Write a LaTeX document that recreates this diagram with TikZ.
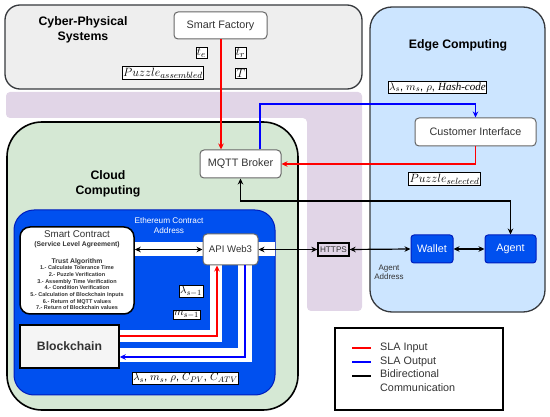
\documentclass[tikz,border=0pt]{standalone}
\usepackage{fontspec}
\setmainfont{Liberation Sans}
\newfontfamily\serifit{Liberation Serif}
\usetikzlibrary{arrows.meta}
\definecolor{cpsfill}{HTML}{EEEEEE}
\definecolor{cpsdraw}{HTML}{36393D}
\definecolor{purp}{HTML}{E1D5E7}
\definecolor{edgefill}{HTML}{CCE5FF}
\definecolor{cloudfill}{HTML}{D5E8D4}
\definecolor{ethfill}{HTML}{0050EF}
\definecolor{ethdraw}{HTML}{001DBC}
\definecolor{nodedraw}{HTML}{666666}
\definecolor{txt}{HTML}{333333}
\definecolor{bcfill}{HTML}{F5F5F5}
\definecolor{redl}{HTML}{FF0000}
\definecolor{bluel}{HTML}{0000FF}
\tikzset{
  container/.style={draw, line width=1.3pt, inner sep=0pt},
  plainbox/.style={draw=nodedraw, fill=white, rounded corners=4pt, line width=1pt, text=txt, font=\fontsize{10.8}{12}\selectfont, inner sep=0pt},
  bluebox/.style={draw=ethdraw, fill=ethfill, rounded corners=3pt, line width=1pt, text=white, font=\fontsize{10.8}{12}\selectfont, inner sep=0pt},
  lbl/.style={draw=black, fill=white, line width=0.6pt, inner sep=1pt, font=\fontsize{11}{12}\selectfont},
  biglbl/.style={lbl, font=\fontsize{12.8}{14}\selectfont},
  title/.style={font=\bfseries\fontsize{12.3}{15}\selectfont, align=center},
  conn/.style={line width=1.2pt},
  wband/.style={draw=white, line width=12pt},
  >={Stealth[length=6pt,width=5.5pt]}
}
\begin{document}
\begin{tikzpicture}[x=1pt,y=-1pt]
\useasboundingbox (0,0) rectangle (550,417);
% background regions
\fill[purp, rounded corners=4pt] (6,92) -- (362,92) -- (362,311) -- (307,311) -- (307,118) -- (6,118) -- cycle;
\node[container, draw=cpsdraw, fill=cpsfill, rounded corners=15pt, minimum width=357pt, minimum height=84pt] (cps) at (183.5,47) {};
\node[container, draw=cpsdraw, fill=edgefill, rounded corners=22pt, minimum width=175pt, minimum height=305pt] (edge) at (457.5,159.5) {};
\node[container, draw=black, line width=1.6pt, fill=cloudfill, rounded corners=35pt, minimum width=291pt, minimum height=288pt] (cloud) at (152.5,266) {};
\node[container, draw=ethdraw, line width=1pt, fill=ethfill, rounded corners=20pt, minimum width=261pt, minimum height=185pt] (eth) at (144.5,302.5) {};
% titles
\node[title] (cpst) at (83,30) {Cyber-Physical\\Systems};
\node[title] (edget) at (458,45) {Edge Computing};
\node[title] (cloudt) at (108,183.5) {Cloud\\Computing};
\node[text=white, font=\fontsize{8.2}{9.2}\selectfont, align=center] (etht) at (169,225.5) {Ethereum Contract\\Address};
% white bands
\fill[white] (134,242) rectangle (275,256);
\draw[wband] (215.5,265) -- (215.5,336) -- (119,336);
\draw[wband, line width=14pt] (245,265) -- (245,355) -- (119,355);
% nodes
\node[plainbox, minimum width=93pt, minimum height=27pt] (sf) at (220.5,25.5) {Smart Factory};
\node[plainbox, minimum width=81pt, minimum height=28pt] (mqtt) at (240.5,164) {MQTT Broker};
\node[plainbox, minimum width=121pt, minimum height=28pt] (ci) at (475.5,132) {Customer Interface};
\node[plainbox, minimum width=55pt, minimum height=31pt, font=\fontsize{9.6}{11}\selectfont] (web3) at (230.5,249.5) {API Web3};
\node[bluebox, minimum width=42pt, minimum height=28pt] (wallet) at (432,249) {Wallet};
\node[bluebox, minimum width=51pt, minimum height=28pt] (agent) at (510.5,249) {Agent};
\node[draw=black, line width=1.3pt, inner sep=0pt, minimum width=31pt, minimum height=13pt, text=txt, font=\fontsize{8.2}{9}\selectfont] (https) at (333.5,249.5) {HTTPS};
\node[draw=black, line width=1.5pt, fill=white, rounded corners=10pt, minimum width=114pt, minimum height=87pt, inner sep=0pt] (sc) at (77,270.5) {};
\node[draw=black, line width=1.5pt, fill=bcfill, minimum width=99pt, minimum height=43pt, inner sep=0pt, font=\bfseries\fontsize{12.2}{14}\selectfont, text=txt] (bc) at (69.5,346.5) {Blockchain};
% smart contract texts
\node[text=txt, font=\fontsize{9.8}{11}\selectfont] (sct1) at (77,234.5) {Smart Contract};
\node[text=txt, font=\bfseries\fontsize{6.8}{8}\selectfont] (sct2) at (77,245) {(Service Level Agreement)};
\node[text=txt, font=\bfseries\fontsize{6.8}{8}\selectfont] (sct3) at (77,262) {Trust Algorithm};
\node[text=txt, font=\bfseries\fontsize{5.5}{6.7}\selectfont, align=center, anchor=north, inner sep=0pt] (sct4) at (77,265.5) {1.- Calculate Tolerance Time\\2.- Puzzle Verification\\3.- Assembly Time Verification\\4.- Condition Verification\\5.- Calculation of Blockchain Inputs\\6.- Return of MQTT values\\7.- Return of Blockchain values};
\node[text=txt, font=\fontsize{8}{9.2}\selectfont, align=center] (aa) at (389,272.5) {Agent\\Address};
% coordinates
\coordinate (bup) at (0,104);
\coordinate (bdn) at (0,201);
\coordinate (ry) at (0,336);
\coordinate (by) at (0,357);
% connectors
\draw[conn, redl, ->] ([xshift=0.5pt]sf.south) -- ([xshift=0.5pt]sf.south |- mqtt.north);
\draw[conn, bluel, ->] ([xshift=19.5pt]mqtt.north) |- (ci.north |- bup) -- (ci.north);
\draw[conn, redl, ->] (ci.south) |- (mqtt.east);
\draw[conn, <->] (mqtt.south) |- (bdn -| agent.north) -- (agent.north);
\draw[conn, <->] (sc.east |- web3.west) -- (web3.west);
\draw[conn, <->] (web3.east) -- (https.west);
\draw[conn, <->] (https.east) -- (wallet.west);
\draw[conn, <->] (wallet.east) -- (agent.west);
\draw[conn, redl, ->] (bc.east |- ry) -| ([xshift=-13.5pt]web3.south);
\draw[conn, bluel, ->] ([xshift=14.5pt]web3.south) |- (bc.east |- by);
% labels
\node[biglbl] (lte) at (201.5,53) {$t_e$};
\node[biglbl] (ltr) at (240.5,53) {$t_r$};
\node[biglbl] (lpa) at (163,73) {$Puzzle_{assembled}$};
\node[biglbl] (lT) at (241,73) {$T$};
\node[lbl] (lhash) at (437.5,87.5) {$\lambda_s$, $m_s$, $\rho$, {\serifit\itshape Hash-code}};
\node[biglbl] (lps) at (444.5,179) {$Puzzle_{selected}$};
\node[lbl] (llam) at (191,291) {$\lambda_{s-1}$};
\node[lbl] (lms) at (186.5,314.5) {$m_{s-1}$};
\node[lbl] (lout) at (185.5,378) {$\lambda_s$, $m_s$, $\rho$, $C_{PV}$, $C_{ATV}$};
% legend
\node[draw=black, line width=1.3pt, fill=white, minimum width=168pt, minimum height=82pt, inner sep=0pt] (leg) at (419,369) {};
\coordinate (l1a) at (352,348); \coordinate (l1b) at (371,348);
\coordinate (l2a) at (352,362); \coordinate (l2b) at (371,362);
\coordinate (l3a) at (352,376); \coordinate (l3b) at (371,376);
\draw[conn, redl] (l1a) -- (l1b);
\draw[conn, bluel] (l2a) -- (l2b);
\draw[conn, black] (l3a) -- (l3b);
\node[anchor=west, text=txt, font=\fontsize{10.8}{13.7}\selectfont, inner sep=0pt] (lt1) at (380,348) {SLA Input};
\node[anchor=west, text=txt, font=\fontsize{10.8}{13.7}\selectfont, inner sep=0pt] (lt2) at (380,362) {SLA Output};
\node[anchor=north west, text=txt, font=\fontsize{10.8}{13.7}\selectfont, inner sep=0pt, align=left] (lt3) at (380,369.5) {Bidirectional\\Communication};
\end{tikzpicture}
\end{document}
